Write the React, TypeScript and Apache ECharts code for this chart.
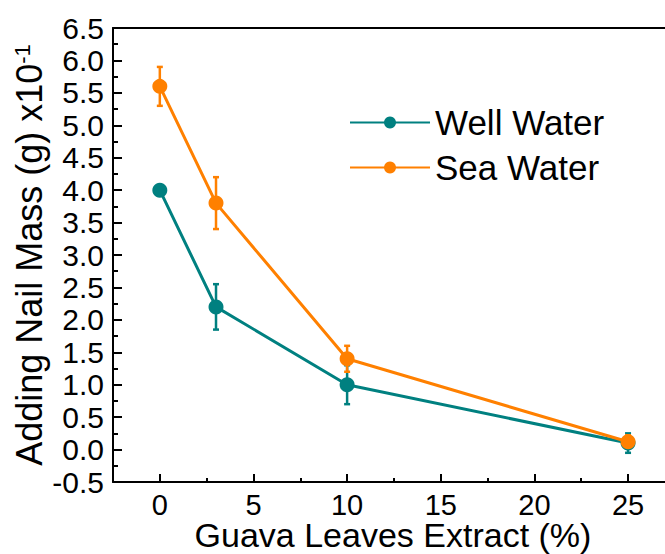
import React, { useEffect, useRef } from "react";
import * as echarts from "echarts";

const xValues = [0, 3, 10, 25];
const wellWater = [4.0, 2.2, 1.0, 0.1];
const wellErr = [0.07, 0.35, 0.3, 0.15];
const seaWater = [5.6, 3.8, 1.4, 0.12];
const seaErr = [0.3, 0.4, 0.2, 0.1];
const xMajorTicks = [0, 5, 10, 15, 20, 25];
const xMinorTicks = [2.5, 7.5, 12.5, 17.5, 22.5];

const TEAL = "#008080";
const ORANGE = "#FF8000";
const FONT = "'Liberation Sans', Arial, sans-serif";

function errorSeries(name: string, ys: number[], errs: number[], color: string) {
  return {
    name,
    type: "custom",
    z: 1,
    data: xValues.map((x, i) => [x, ys[i], errs[i]]),
    encode: { x: 0, y: 1 },
    renderItem: (params: any, api: any) => {
      const x = api.value(0);
      const y = api.value(1);
      const e = api.value(2);
      const top = api.coord([x, y + e]);
      const bot = api.coord([x, y - e]);
      const hw = 3;
      const style = { stroke: color, lineWidth: 2.5 };
      return {
        type: "group",
        children: [
          { type: "line", shape: { x1: top[0], y1: top[1], x2: bot[0], y2: bot[1] }, style },
          { type: "line", shape: { x1: top[0] - hw, y1: top[1], x2: top[0] + hw, y2: top[1] }, style },
          { type: "line", shape: { x1: bot[0] - hw, y1: bot[1], x2: bot[0] + hw, y2: bot[1] }, style },
        ],
      };
    },
  };
}

function lineSeries(name: string, ys: number[], color: string) {
  return {
    name,
    type: "line",
    z: 2,
    data: xValues.map((x, i) => [x, ys[i]]),
    symbol: "circle",
    symbolSize: 15,
    lineStyle: { color, width: 3 },
    itemStyle: { color },
  };
}

export default function App() {
  const ref = useRef<HTMLDivElement>(null);
  useEffect(() => {
    const chart = echarts.init(ref.current as HTMLDivElement, null, { renderer: "svg" });
    const xMin = -2.5;
    const xMax = 27.4;
    const axisLineStyle = { color: "#000", width: 2 };
    chart.setOption({
      animation: false,
      backgroundColor: "#fff",
      textStyle: { fontFamily: FONT },
      grid: { left: 113, top: 28, width: 560, height: 454, outerBoundsMode: "none", containLabel: false },
      legend: {
        data: ["Well Water", "Sea Water"],
        orient: "vertical",
        left: 349,
        top: 105,
        padding: 0,
        itemWidth: 80,
        itemHeight: 15,
        itemGap: 10,
        textStyle: { fontSize: 35, color: "#000", fontFamily: FONT },
      },
      xAxis: [
        {
          type: "value",
          min: xMin,
          max: xMax,
          position: "bottom",
          axisLine: { onZero: false, lineStyle: axisLineStyle },
          axisTick: { inside: true, length: 8, customValues: xMajorTicks, lineStyle: axisLineStyle },
          axisLabel: {
            customValues: xMajorTicks,
            fontSize: 29,
            lineHeight: 28,
            color: "#000",
            margin: 9,
            fontFamily: FONT,
          },
          splitLine: { show: false },
          name: "Guava Leaves Extract (%)",
          nameLocation: "middle",
          nameGap: 36,
          nameMoveOverlap: false,
          nameTextStyle: { fontSize: 34, lineHeight: 34, color: "#000", fontFamily: FONT },
        },
        {
          type: "value",
          min: xMin,
          max: xMax,
          position: "bottom",
          axisLine: { show: false, onZero: false },
          axisTick: { inside: true, length: 4, customValues: xMinorTicks, lineStyle: axisLineStyle },
          axisLabel: { show: false },
          splitLine: { show: false },
        },
        {
          type: "value",
          min: xMin,
          max: xMax,
          position: "top",
          axisLine: { show: true, onZero: false, lineStyle: axisLineStyle },
          axisTick: { show: false },
          axisLabel: { show: false },
          splitLine: { show: false },
        },
      ],
      yAxis: {
        type: "value",
        min: -0.5,
        max: 6.5,
        interval: 0.5,
        axisLine: { show: true, onZero: false, lineStyle: axisLineStyle },
        axisTick: { show: true, inside: true, length: 9, lineStyle: axisLineStyle },
        minorTick: { show: true, splitNumber: 2, length: 5, lineStyle: axisLineStyle },
        axisLabel: {
          fontSize: 30,
          color: "#000",
          margin: 9,
          fontFamily: FONT,
          formatter: (v: number) => v.toFixed(1),
        },
        splitLine: { show: false },
        name: "Adding Nail Mass (g) x10{sup|-1}",
        nameLocation: "middle",
        nameGap: 66,
        nameMoveOverlap: false,
        nameTextStyle: {
          fontSize: 36,
          color: "#000",
          fontFamily: FONT,
          rich: { sup: { fontSize: 22, verticalAlign: "top", color: "#000", fontFamily: FONT } },
        },
      },
      series: [
        errorSeries("Well Water err", wellWater, wellErr, TEAL),
        errorSeries("Sea Water err", seaWater, seaErr, ORANGE),
        lineSeries("Well Water", wellWater, TEAL),
        lineSeries("Sea Water", seaWater, ORANGE),
      ],
    });
    return () => chart.dispose();
  }, []);
  return (
    <div
      style={{
        position: "absolute",
        left: 0,
        top: 0,
        width: 665,
        height: 554,
        overflow: "hidden",
        background: "#fff",
      }}
    >
      <div ref={ref} style={{ width: 700, height: 554 }} />
    </div>
  );
}
